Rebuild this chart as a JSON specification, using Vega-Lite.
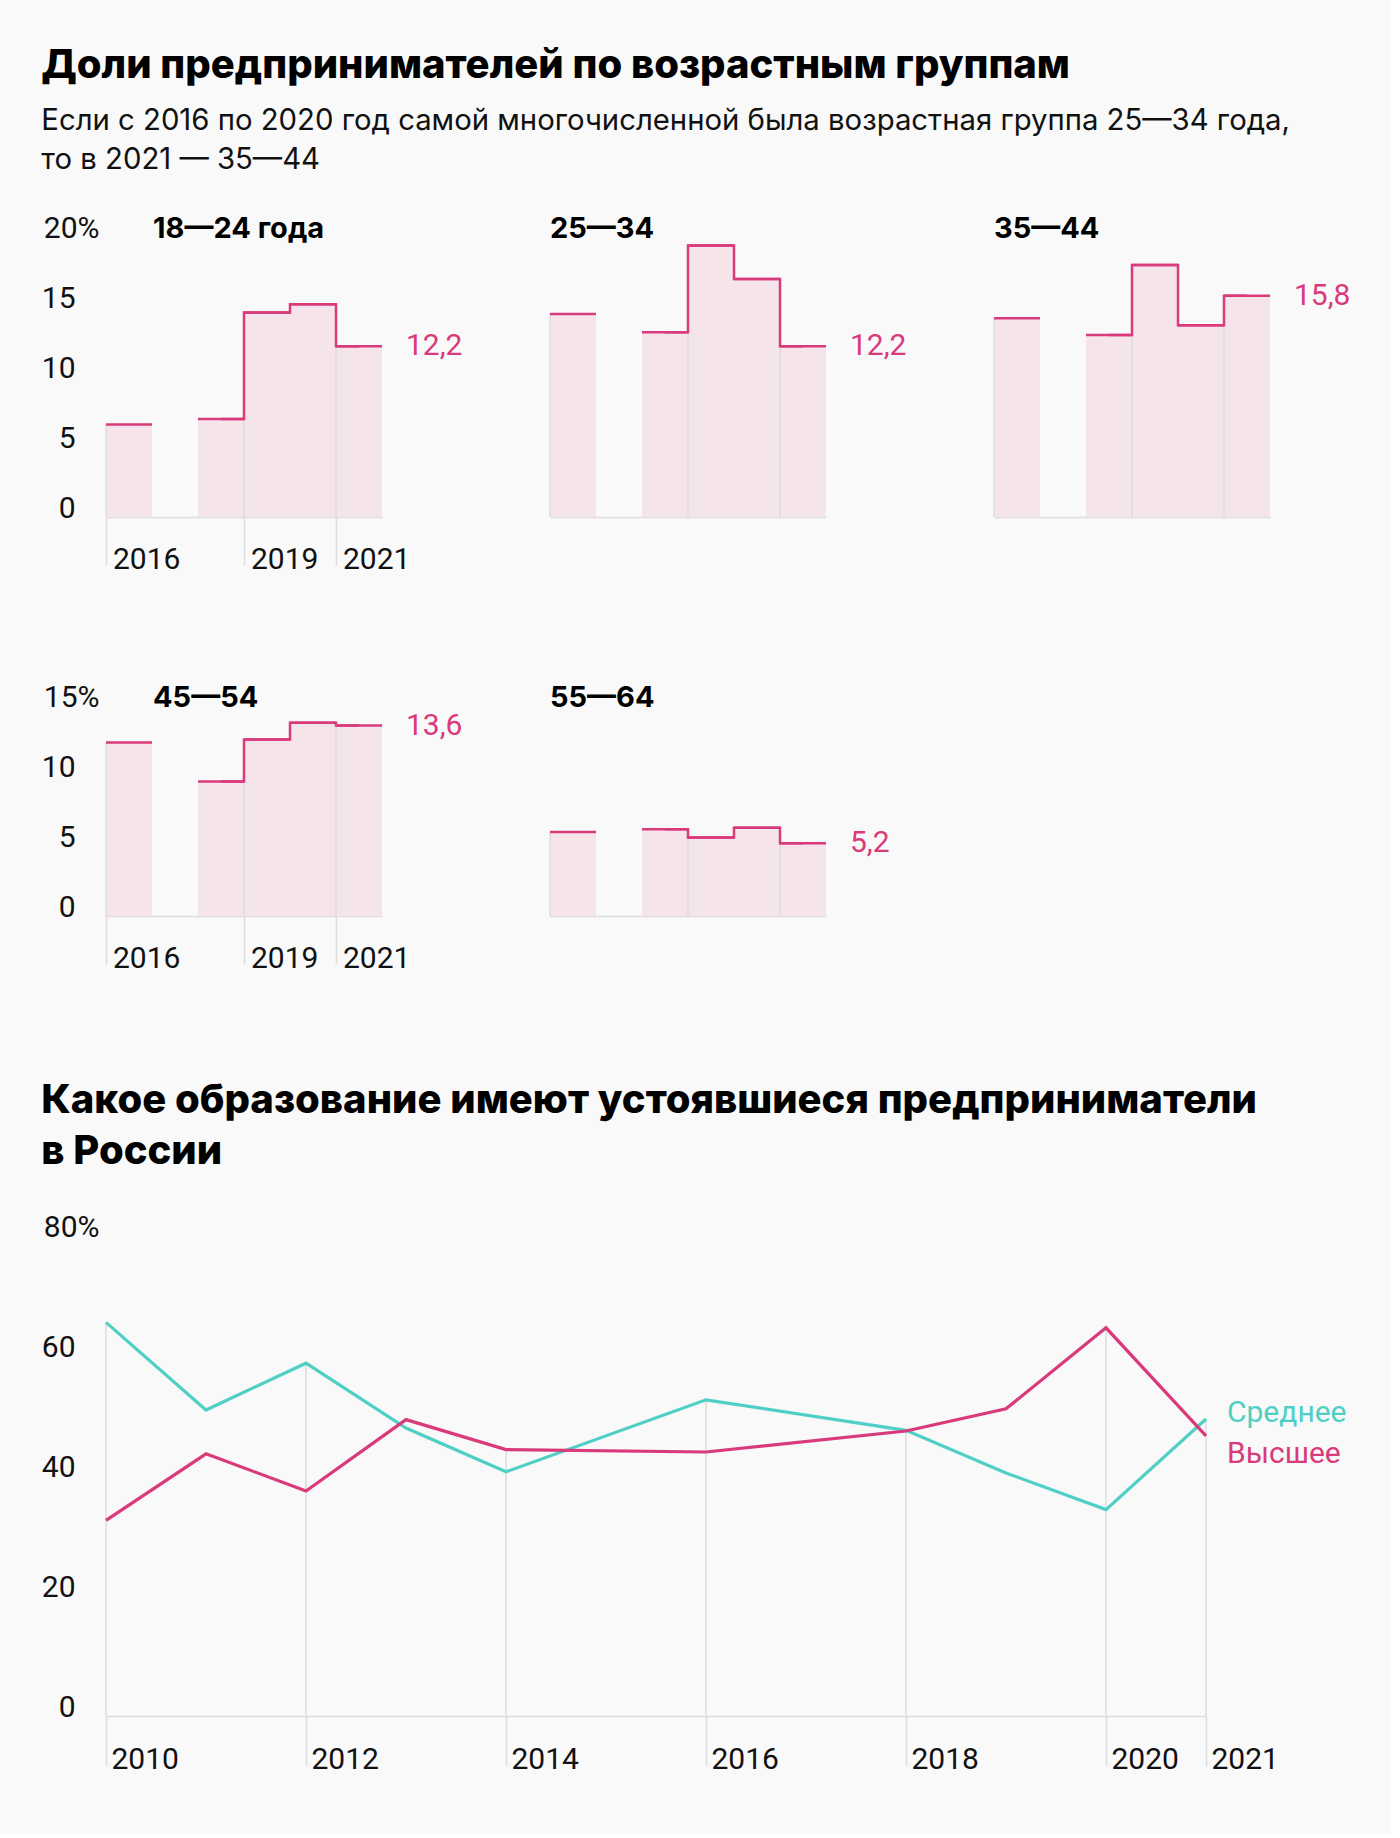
{
  "$schema": "https://vega.github.io/schema/vega-lite/v6.json",
  "background": "#f9f9f9",
  "padding": {"left": 41, "top": 46, "right": 40, "bottom": 60},
  "title": {
    "text": "Доли предпринимателей по возрастным группам",
    "subtitle": ["Если с 2016 по 2020 год самой многочисленной была возрастная группа 25—34 года,", "то в 2021 — 35—44"],
    "anchor": "start",
    "frame": "bounds",
    "baseline": "top",
    "font": "Inter",
    "fontSize": 40,
    "fontWeight": 800,
    "color": "#000000",
    "subtitleFont": "Inter",
    "subtitleFontSize": 29.3,
    "subtitleColor": "#111111",
    "subtitleLineHeight": 38.5,
    "subtitlePadding": 21,
    "offset": 38,
    "dx": 0
  },
  "config": {
    "font": "Roboto",
    "view": {"stroke": null},
    "locale": {"number": {"decimal": ",", "thousands": " ", "grouping": [3], "currency": ["", ""]}},
    "axis": {
      "labelFont": "Roboto",
      "labelFontSize": 30,
      "labelColor": "#111111",
      "domainColor": "#dddddd",
      "tickColor": "#dddddd",
      "domainWidth": 1.5,
      "tickWidth": 1.5,
      "grid": false
    },
    "text": {"font": "Roboto", "fontSize": 30},
    "title": {
      "anchor": "start",
      "frame": "group",
      "font": "Inter",
      "fontSize": 29,
      "fontWeight": 700,
      "color": "#000000",
      "baseline": "alphabetic",
      "offset": -31
    }
  },
  "datasets": {
    "ages": [
      {"group": "18—24", "year": 2016, "value": 6.6},
      {"group": "18—24", "year": 2017, "value": null},
      {"group": "18—24", "year": 2018, "value": 7.0},
      {"group": "18—24", "year": 2019, "value": 14.6},
      {"group": "18—24", "year": 2020, "value": 15.2},
      {"group": "18—24", "year": 2021, "value": 12.2},
      {"group": "25—34", "year": 2016, "value": 14.5},
      {"group": "25—34", "year": 2017, "value": null},
      {"group": "25—34", "year": 2018, "value": 13.2},
      {"group": "25—34", "year": 2019, "value": 19.4},
      {"group": "25—34", "year": 2020, "value": 17.0},
      {"group": "25—34", "year": 2021, "value": 12.2},
      {"group": "35—44", "year": 2016, "value": 14.2},
      {"group": "35—44", "year": 2017, "value": null},
      {"group": "35—44", "year": 2018, "value": 13.0},
      {"group": "35—44", "year": 2019, "value": 18.0},
      {"group": "35—44", "year": 2020, "value": 13.7},
      {"group": "35—44", "year": 2021, "value": 15.8},
      {"group": "45—54", "year": 2016, "value": 12.4},
      {"group": "45—54", "year": 2017, "value": null},
      {"group": "45—54", "year": 2018, "value": 9.6},
      {"group": "45—54", "year": 2019, "value": 12.6},
      {"group": "45—54", "year": 2020, "value": 13.8},
      {"group": "45—54", "year": 2021, "value": 13.6},
      {"group": "55—64", "year": 2016, "value": 6.0},
      {"group": "55—64", "year": 2017, "value": null},
      {"group": "55—64", "year": 2018, "value": 6.2},
      {"group": "55—64", "year": 2019, "value": 5.6},
      {"group": "55—64", "year": 2020, "value": 6.3},
      {"group": "55—64", "year": 2021, "value": 5.2}
    ],
    "edu": [
      {"series": "Среднее", "year": 2010, "value": 65.6},
      {"series": "Среднее", "year": 2011, "value": 51.0},
      {"series": "Среднее", "year": 2012, "value": 58.8},
      {"series": "Среднее", "year": 2013, "value": 48.0},
      {"series": "Среднее", "year": 2014, "value": 40.7},
      {"series": "Среднее", "year": 2016, "value": 52.7},
      {"series": "Среднее", "year": 2018, "value": 47.6},
      {"series": "Среднее", "year": 2019, "value": 40.5},
      {"series": "Среднее", "year": 2020, "value": 34.4},
      {"series": "Среднее", "year": 2021, "value": 49.5},
      {"series": "Высшее", "year": 2010, "value": 32.6},
      {"series": "Высшее", "year": 2011, "value": 43.7},
      {"series": "Высшее", "year": 2012, "value": 37.5},
      {"series": "Высшее", "year": 2013, "value": 49.4},
      {"series": "Высшее", "year": 2014, "value": 44.4},
      {"series": "Высшее", "year": 2016, "value": 44.0},
      {"series": "Высшее", "year": 2018, "value": 47.5},
      {"series": "Высшее", "year": 2019, "value": 51.2},
      {"series": "Высшее", "year": 2020, "value": 64.7},
      {"series": "Высшее", "year": 2021, "value": 46.7}
    ]
  },
  "vconcat": [
    {
      "hconcat": [
        {
          "width": 276, "height": 280,
          "title": {"text": "18—24 года", "dx": 47},
          "data": {"name": "ages"},
          "transform": [{"filter": "datum.group === '18—24'"}],
          "encoding": {
            "x": {"field": "year", "type": "ordinal", "scale": {"domain": [2016, 2017, 2018, 2019, 2020, 2021], "paddingInner": 0, "paddingOuter": 0},
              "axis": {"title": null, "bandPosition": 0, "values": [2016, 2019, 2021], "labelAngle": 0, "tickSize": 48, "labelPadding": 3, "labelAlign": "left", "labelBaseline": "alphabetic", "labelOffset": -16, "labelFlush": false, "labelOverlap": false}},
            "y": {"field": "value", "type": "quantitative", "scale": {"domain": [0, 20], "nice": false},
              "axis": {"title": null, "values": [0, 5, 10, 15, 20], "labelExpr": "datum.value === 20 ? '20%' : datum.label", "domain": false, "ticks": false, "tickSize": 0, "labelAlign": "right", "labelBaseline": "alphabetic", "labelPadding": {"condition": {"test": "datum.value === 20", "value": 7}, "value": 31}}}
          },
          "layer": [
            {"mark": {"type": "bar", "color": "#f6e4eb"}},
            {"transform": [{"filter": "datum.year === 2016 || datum.year === 2019 || datum.year === 2021"}], "mark": {"type": "rule", "color": "#dddddd", "strokeWidth": 1.5}, "encoding": {"x": {"field": "year", "type": "ordinal", "bandPosition": 0}, "y2": {"datum": 0}}},
            {"mark": {"type": "line", "interpolate": "step", "invalid": "break-paths-filter-domains", "color": "#d93a7b", "strokeWidth": 2.5}},
            {"mark": {"type": "tick", "size": 46, "thickness": 2.5, "color": "#d93a7b", "opacity": 1}},
            {"transform": [{"filter": "datum.year === 2021"}], "mark": {"type": "text", "align": "left", "baseline": "middle", "dx": 24, "color": "#d93a7b"}, "encoding": {"x": {"field": "year", "type": "ordinal", "bandPosition": 1}, "text": {"field": "value", "type": "quantitative", "format": ".1f"}}}
          ]
        },
        {
          "width": 276, "height": 280,
          "title": {"text": "25—34"},
          "data": {"name": "ages"},
          "transform": [{"filter": "datum.group === '25—34'"}],
          "encoding": {
            "x": {"field": "year", "type": "ordinal", "scale": {"domain": [2016, 2017, 2018, 2019, 2020, 2021], "paddingInner": 0, "paddingOuter": 0},
              "axis": {"title": null, "labels": false, "ticks": false}},
            "y": {"field": "value", "type": "quantitative", "scale": {"domain": [0, 20], "nice": false},
              "axis": {"title": null, "values": [0, 5, 10, 15, 20], "labelExpr": "datum.value === 20 ? '20%' : datum.label", "domain": false, "ticks": false, "tickSize": 0, "labelAlign": "right", "labelBaseline": "alphabetic", "labelOpacity": 0, "labelPadding": 31}}
          },
          "layer": [
            {"mark": {"type": "bar", "color": "#f6e4eb"}},
            {"transform": [{"filter": "datum.year === 2016 || datum.year === 2019 || datum.year === 2021"}], "mark": {"type": "rule", "color": "#dddddd", "strokeWidth": 1.5}, "encoding": {"x": {"field": "year", "type": "ordinal", "bandPosition": 0}, "y2": {"datum": 0}}},
            {"mark": {"type": "line", "interpolate": "step", "invalid": "break-paths-filter-domains", "color": "#d93a7b", "strokeWidth": 2.5}},
            {"mark": {"type": "tick", "size": 46, "thickness": 2.5, "color": "#d93a7b", "opacity": 1}},
            {"transform": [{"filter": "datum.year === 2021"}], "mark": {"type": "text", "align": "left", "baseline": "middle", "dx": 24, "color": "#d93a7b"}, "encoding": {"x": {"field": "year", "type": "ordinal", "bandPosition": 1}, "text": {"field": "value", "type": "quantitative", "format": ".1f"}}}
          ]
        },
        {
          "width": 276, "height": 280,
          "title": {"text": "35—44"},
          "data": {"name": "ages"},
          "transform": [{"filter": "datum.group === '35—44'"}],
          "encoding": {
            "x": {"field": "year", "type": "ordinal", "scale": {"domain": [2016, 2017, 2018, 2019, 2020, 2021], "paddingInner": 0, "paddingOuter": 0},
              "axis": {"title": null, "labels": false, "ticks": false}},
            "y": {"field": "value", "type": "quantitative", "scale": {"domain": [0, 20], "nice": false},
              "axis": {"title": null, "values": [0, 5, 10, 15, 20], "labelExpr": "datum.value === 20 ? '20%' : datum.label", "domain": false, "ticks": false, "tickSize": 0, "labelAlign": "right", "labelBaseline": "alphabetic", "labelOpacity": 0, "labelPadding": 31}}
          },
          "layer": [
            {"mark": {"type": "bar", "color": "#f6e4eb"}},
            {"transform": [{"filter": "datum.year === 2016 || datum.year === 2019 || datum.year === 2021"}], "mark": {"type": "rule", "color": "#dddddd", "strokeWidth": 1.5}, "encoding": {"x": {"field": "year", "type": "ordinal", "bandPosition": 0}, "y2": {"datum": 0}}},
            {"mark": {"type": "line", "interpolate": "step", "invalid": "break-paths-filter-domains", "color": "#d93a7b", "strokeWidth": 2.5}},
            {"mark": {"type": "tick", "size": 46, "thickness": 2.5, "color": "#d93a7b", "opacity": 1}},
            {"transform": [{"filter": "datum.year === 2021"}], "mark": {"type": "text", "align": "left", "baseline": "middle", "dx": 24, "color": "#d93a7b"}, "encoding": {"x": {"field": "year", "type": "ordinal", "bandPosition": 1}, "text": {"field": "value", "type": "quantitative", "format": ".1f"}}}
          ]
        }
      ],
      "bounds": "flush",
      "spacing": 168
    },
    {
      "hconcat": [
        {
          "width": 276, "height": 210,
          "title": {"text": "45—54", "dx": 47},
          "data": {"name": "ages"},
          "transform": [{"filter": "datum.group === '45—54'"}],
          "encoding": {
            "x": {"field": "year", "type": "ordinal", "scale": {"domain": [2016, 2017, 2018, 2019, 2020, 2021], "paddingInner": 0, "paddingOuter": 0},
              "axis": {"title": null, "bandPosition": 0, "values": [2016, 2019, 2021], "labelAngle": 0, "tickSize": 48, "labelPadding": 3, "labelAlign": "left", "labelBaseline": "alphabetic", "labelOffset": -16, "labelFlush": false, "labelOverlap": false}},
            "y": {"field": "value", "type": "quantitative", "scale": {"domain": [0, 15], "nice": false},
              "axis": {"title": null, "values": [0, 5, 10, 15], "labelExpr": "datum.value === 15 ? '15%' : datum.label", "domain": false, "ticks": false, "tickSize": 0, "labelAlign": "right", "labelBaseline": "alphabetic", "labelPadding": {"condition": {"test": "datum.value === 15", "value": 7}, "value": 31}}}
          },
          "layer": [
            {"mark": {"type": "bar", "color": "#f6e4eb"}},
            {"transform": [{"filter": "datum.year === 2016 || datum.year === 2019 || datum.year === 2021"}], "mark": {"type": "rule", "color": "#dddddd", "strokeWidth": 1.5}, "encoding": {"x": {"field": "year", "type": "ordinal", "bandPosition": 0}, "y2": {"datum": 0}}},
            {"mark": {"type": "line", "interpolate": "step", "invalid": "break-paths-filter-domains", "color": "#d93a7b", "strokeWidth": 2.5}},
            {"mark": {"type": "tick", "size": 46, "thickness": 2.5, "color": "#d93a7b", "opacity": 1}},
            {"transform": [{"filter": "datum.year === 2021"}], "mark": {"type": "text", "align": "left", "baseline": "middle", "dx": 24, "color": "#d93a7b"}, "encoding": {"x": {"field": "year", "type": "ordinal", "bandPosition": 1}, "text": {"field": "value", "type": "quantitative", "format": ".1f"}}}
          ]
        },
        {
          "width": 276, "height": 210,
          "title": {"text": "55—64"},
          "data": {"name": "ages"},
          "transform": [{"filter": "datum.group === '55—64'"}],
          "encoding": {
            "x": {"field": "year", "type": "ordinal", "scale": {"domain": [2016, 2017, 2018, 2019, 2020, 2021], "paddingInner": 0, "paddingOuter": 0},
              "axis": {"title": null, "labels": false, "ticks": false}},
            "y": {"field": "value", "type": "quantitative", "scale": {"domain": [0, 15], "nice": false},
              "axis": {"title": null, "values": [0, 5, 10, 15], "labelExpr": "datum.value === 15 ? '15%' : datum.label", "domain": false, "ticks": false, "tickSize": 0, "labelAlign": "right", "labelBaseline": "alphabetic", "labelOpacity": 0, "labelPadding": 31}}
          },
          "layer": [
            {"mark": {"type": "bar", "color": "#f6e4eb"}},
            {"transform": [{"filter": "datum.year === 2016 || datum.year === 2019 || datum.year === 2021"}], "mark": {"type": "rule", "color": "#dddddd", "strokeWidth": 1.5}, "encoding": {"x": {"field": "year", "type": "ordinal", "bandPosition": 0}, "y2": {"datum": 0}}},
            {"mark": {"type": "line", "interpolate": "step", "invalid": "break-paths-filter-domains", "color": "#d93a7b", "strokeWidth": 2.5}},
            {"mark": {"type": "tick", "size": 46, "thickness": 2.5, "color": "#d93a7b", "opacity": 1}},
            {"transform": [{"filter": "datum.year === 2021"}], "mark": {"type": "text", "align": "left", "baseline": "middle", "dx": 24, "color": "#d93a7b"}, "encoding": {"x": {"field": "year", "type": "ordinal", "bandPosition": 1}, "text": {"field": "value", "type": "quantitative", "format": ".1f"}}}
          ]
        }
      ],
      "bounds": "flush",
      "spacing": 168
    },
    {
      "width": 1100, "height": 480,
      "title": {"text": ["Какое образование имеют устоявшиеся предприниматели", "в России"], "frame": "bounds", "baseline": "top", "fontSize": 40, "fontWeight": 800, "lineHeight": 51, "offset": 40},
      "data": {"name": "edu"},
      "encoding": {
        "x": {"field": "year", "type": "quantitative", "scale": {"domain": [2010, 2021], "nice": false, "zero": false},
          "axis": {"title": null, "values": [2010, 2012, 2014, 2016, 2018, 2020, 2021], "format": "d", "tickSize": 50, "labelPadding": 2, "labelAlign": "left", "labelBaseline": "alphabetic", "labelOffset": 5, "labelFlush": false, "labelOverlap": false}},
        "y": {"field": "value", "type": "quantitative", "scale": {"domain": [0, 80], "nice": false},
          "axis": {"title": null, "values": [0, 20, 40, 60, 80], "labelExpr": "datum.value === 80 ? '80%' : datum.label", "domain": false, "ticks": false, "tickSize": 0, "labelAlign": "right", "labelBaseline": "alphabetic", "labelPadding": {"condition": {"test": "datum.value === 80", "value": 7}, "value": 31}}}
      },
      "layer": [
        {
          "transform": [
            {"aggregate": [{"op": "max", "field": "value", "as": "value"}], "groupby": ["year"]},
            {"filter": "indexof([2010, 2012, 2014, 2016, 2018, 2020, 2021], datum.year) >= 0"}
          ],
          "mark": {"type": "rule", "color": "#dddddd", "strokeWidth": 1.5},
          "encoding": {"y2": {"datum": 0}}
        },
        {
          "mark": {"type": "line", "strokeWidth": 3.2},
          "encoding": {"color": {"field": "series", "type": "nominal", "scale": {"domain": ["Среднее", "Высшее"], "range": ["#4fcfc5", "#d93a7b"]}, "legend": null}}
        },
        {
          "transform": [{"filter": "datum.year === 2021 && datum.series === 'Среднее'"}],
          "mark": {"type": "text", "align": "left", "baseline": "middle", "dx": 21, "dy": -6, "color": "#4fcfc5"},
          "encoding": {"text": {"field": "series"}}
        },
        {
          "transform": [{"filter": "datum.year === 2021 && datum.series === 'Высшее'"}],
          "mark": {"type": "text", "align": "left", "baseline": "middle", "dx": 21, "dy": 18, "color": "#d93a7b"},
          "encoding": {"text": {"field": "series"}}
        }
      ]
    }
  ],
  "spacing": 108
}
